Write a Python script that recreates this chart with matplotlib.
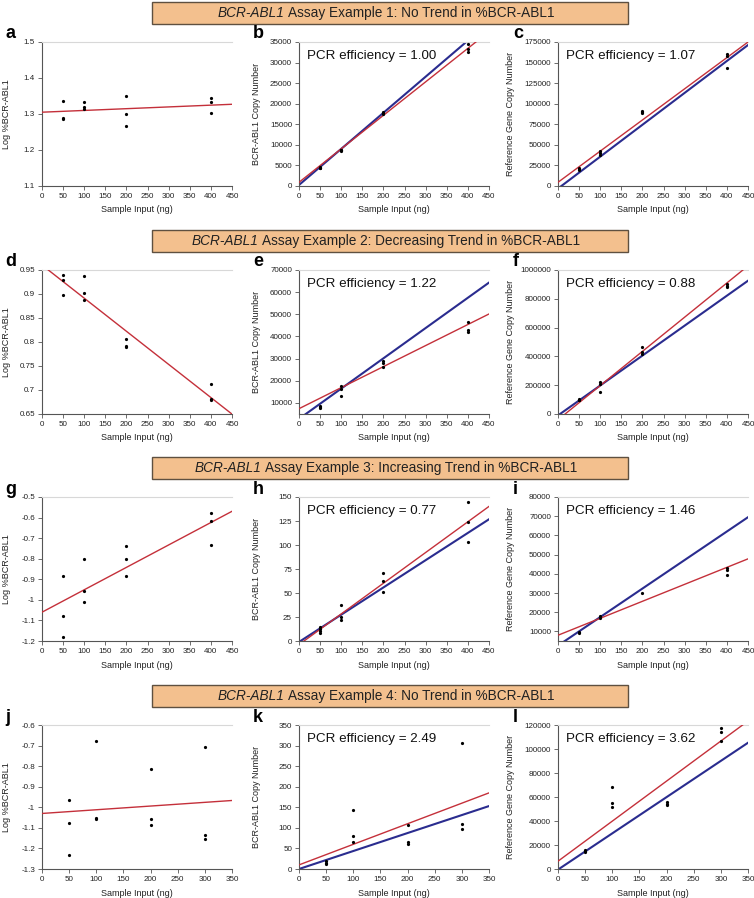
import numpy as np
import matplotlib
matplotlib.use('Agg')
import matplotlib.pyplot as plt
from matplotlib.patches import Rectangle
from matplotlib.ticker import FuncFormatter

W, H = 754, 898
plt.rcParams['font.family'] = ['Liberation Sans', 'DejaVu Sans']
plt.rcParams['axes.unicode_minus'] = False

# ---- data ----
x4 = [50, 50, 50, 100, 100, 100, 200, 200, 200, 400, 400, 400]
x3 = [50, 50, 50, 100, 100, 100, 200, 200, 200, 300, 300, 300]

a_y = [1.335, 1.290, 1.285, 1.332, 1.320, 1.315, 1.350, 1.300, 1.267, 1.345, 1.333, 1.303]
a_red = [1.305, 0.0000489]

b_y = [4600, 4450, 4350, 8800, 8700, 8600, 18000, 17700, 17400, 34500, 33200, 32500]
b_red = [900, 81.4]
b_blue = [250, 87.75]

c_y = [22000, 20500, 19500, 42000, 40000, 38000, 91500, 89500, 89000, 161000, 158000, 143000]
c_red = [4500, 378.8]
c_blue = [-3100, 387.6]

d_y = [0.940, 0.930, 0.898, 0.937, 0.903, 0.888, 0.806, 0.792, 0.789, 0.712, 0.682, 0.679]
d_red = [0.9603, -0.00069]

e_y = [8600, 8100, 7800, 17500, 16500, 13000, 29000, 28000, 26000, 46500, 43000, 42000]
e_red = [7400, 95.0]
e_blue = [2800, 136.7]

f_y = [105000, 100000, 95000, 220000, 205000, 150000, 465000, 430000, 420000, 905000, 890000, 880000]
f_red = [-40000, 2375]
f_blue = [-10000, 2079]

g_y = [-0.885, -1.078, -1.180, -0.800, -0.955, -1.010, -0.740, -0.800, -0.885, -0.580, -0.615, -0.735]
g_red = [-1.06, 0.00109]

h_x = [50, 50, 50, 50, 100, 100, 100, 200, 200, 200, 400, 400, 400]
h_y = [15, 12, 10, 8, 37, 25, 22, 71, 62, 51, 145, 124, 103]
h_red = [-3.8, 0.32]
h_blue = [-1, 0.284]

i_x = [50, 50, 100, 100, 200, 400, 400, 400]
i_y = [9500, 9000, 18000, 17000, 30000, 43000, 42000, 39500]
i_red = [8000, 88.4]
i_blue = [2600, 148.6]

j_y = [-0.965, -1.075, -1.232, -0.680, -1.050, -1.055, -0.815, -1.058, -1.088, -0.705, -1.135, -1.155]
j_red = [-1.03, 0.00018]

k_y = [20, 15, 12, 143, 80, 65, 107, 65, 60, 307, 110, 98]
k_red = [10, 0.5]
k_blue = [0, 0.437]

l_y = [15500, 15000, 14500, 68500, 55000, 52000, 56000, 54500, 53500, 117500, 114500, 106500]
l_red = [6500, 333.8]
l_blue = [-500, 302]

banners = ['Assay Example 1: No Trend in %BCR-ABL1',
           'Assay Example 2: Decreasing Trend in %BCR-ABL1',
           'Assay Example 3: Increasing Trend in %BCR-ABL1',
           'Assay Example 4: No Trend in %BCR-ABL1']

# letter, x, y, red, blue, efficiency, ylim, ytick step, xmax
panels = [
    ['a', x4, a_y, a_red, None, None, (1.1, 1.5), 0.1, 450],
    ['b', x4, b_y, b_red, b_blue, '1.00', (0, 35000), 5000, 450],
    ['c', x4, c_y, c_red, c_blue, '1.07', (0, 175000), 25000, 450],
    ['d', x4, d_y, d_red, None, None, (0.65, 0.95), 0.05, 450],
    ['e', x4, e_y, e_red, e_blue, '1.22', (5000, 70000), 10000, 450],
    ['f', x4, f_y, f_red, f_blue, '0.88', (0, 1000000), 200000, 450],
    ['g', x4, g_y, g_red, None, None, (-1.2, -0.5), 0.1, 450],
    ['h', h_x, h_y, h_red, h_blue, '0.77', (0, 150), 25, 450],
    ['i', i_x, i_y, i_red, i_blue, '1.46', (5000, 80000), 10000, 450],
    ['j', x3, j_y, j_red, None, None, (-1.3, -0.6), 0.1, 350],
    ['k', x3, k_y, k_red, k_blue, '2.49', (0, 350), 50, 350],
    ['l', x3, l_y, l_red, l_blue, '3.62', (0, 120000), 20000, 350],
]
ylabels = ['Log %BCR-ABL1', 'BCR-ABL1 Copy Number', 'Reference Gene Copy Number']

RED = '#c4303a'
BLUE = '#2a2c8f'
row_top = [1, 229, 456, 684]
col_left = [42, 299, 558]
col_w = 190
ylab_x = [-0.165, -0.20, -0.225]
letter_x = [5, 253, 513]

fig = plt.figure(figsize=(W / 100, H / 100), dpi=100)
fig.patch.set_facecolor('white')
renderer = fig.canvas.get_renderer()


def fmt(v, pos):
    v = round(v, 6) + 0.0
    if abs(v) >= 1000:
        return '{:.0f}'.format(v)
    return '{:g}'.format(v)


for n, p in enumerate(panels):
    letter, xs, ys, red, blue, eff, ylim, step, xmax = p
    row, col = divmod(n, 3)
    top = row_top[row] + 41
    bottom = row_top[row] + 185
    ax = fig.add_axes([col_left[col] / W, 1 - bottom / H, col_w / W, (bottom - top) / H])

    xx = np.array([0, xmax])
    if blue is not None:
        ax.plot(xx, blue[0] + blue[1] * xx, color=BLUE, lw=1.5, zorder=2)
    ax.plot(xx, red[0] + red[1] * xx, color=RED, lw=1.0, zorder=3)
    ax.plot(xs, ys, 'o', color='black', ms=2.3, mew=0, zorder=4)

    ax.set_xlim(0, xmax)
    ax.set_ylim(*ylim)
    ax.set_xticks(np.arange(0, xmax + 1, 50))
    first = np.ceil(ylim[0] / step - 1e-9) * step
    ax.set_yticks(np.arange(first, ylim[1] + step / 2, step))
    ax.yaxis.set_major_formatter(FuncFormatter(fmt))
    ax.tick_params(labelsize=5.8, length=3, width=0.6, color='#555555',
                   labelcolor='#222222', pad=2)

    ax.spines['right'].set_visible(False)
    ax.spines['top'].set_color('#d8d8d8')
    ax.spines['top'].set_linewidth(0.8)
    for s in ['left', 'bottom']:
        ax.spines[s].set_color('#555555')
        ax.spines[s].set_linewidth(0.8)

    ax.set_xlabel('Sample Input (ng)', fontsize=6.5, color='#222222', labelpad=4)
    ax.set_ylabel(ylabels[col], fontsize=6.5, color='#222222')
    ax.yaxis.set_label_coords(ylab_x[col], 0.5)

    if eff is not None:
        ax.text(0.04, 0.90, 'PCR efficiency = ' + eff, transform=ax.transAxes,
                fontsize=9.6, va='center', ha='left', color='#111111')

    fig.text(letter_x[col] / W, 1 - (top - 8) / H, letter, fontsize=13,
             fontweight='bold', ha='left', va='center')

# banners
for row, label in enumerate(banners):
    y0 = row_top[row]
    fig.patches.append(Rectangle((152 / W, 1 - (y0 + 23) / H), 476 / W, 22 / H,
                                 transform=fig.transFigure, facecolor='#f3c08e',
                                 edgecolor='#5e5040', lw=1.0))
    yc = 1 - (y0 + 12) / H
    t1 = fig.text(0, yc, 'BCR-ABL1', fontsize=9.8, style='italic',
                  va='center', ha='left', color='#222222')
    t2 = fig.text(0, yc, ' ' + label, fontsize=9.8,
                  va='center', ha='left', color='#222222')
    w1 = t1.get_window_extent(renderer).width
    w2 = t2.get_window_extent(renderer).width
    x0 = 386 - (w1 + w2) / 2
    t1.set_x(x0 / W)
    t2.set_x((x0 + w1) / W)

fig.savefig('out.png', dpi=100)
